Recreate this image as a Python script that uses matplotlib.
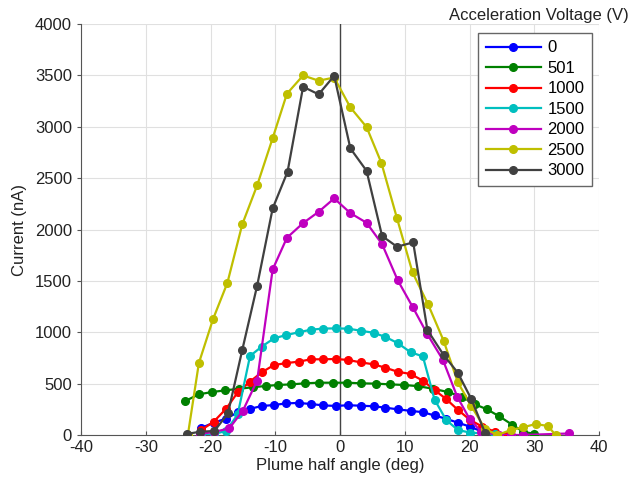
import matplotlib.pyplot as plt

plt.rcParams['font.family'] = ['Liberation Sans', 'DejaVu Sans']
plt.rcParams['axes.unicode_minus'] = False

# angle grids (deg) and currents (nA)
x_grid = [-21.4, -19.5, -17.6, -15.8, -13.9, -12.1, -10.2, -8.3, -6.4, -4.5, -2.6, -0.6, 1.3,
          3.2, 5.2, 7.0, 8.9, 10.9, 12.8, 14.6, 16.4, 18.2, 20.1, 22.0, 23.9, 25.8]

x_0 = x_grid[:25]
y_0 = [70, 120, 160, 220, 255, 282, 292, 308, 312, 302, 288, 283, 290,
       285, 280, 266, 250, 235, 222, 190, 158, 120, 81, 32, 5]

x_501 = [-23.9, -21.8, -19.8, -17.7, -15.6, -13.5, -11.5, -9.6, -7.5, -5.4, -3.3, -1.1, 1.1,
         3.3, 5.5, 7.7, 9.9, 12.1, 14.4, 16.7, 18.9, 20.8, 22.7, 24.6, 26.6, 28.3, 29.9]
y_501 = [331, 396, 418, 435, 450, 465, 477, 487, 493, 503, 509, 509, 509,
         503, 500, 493, 487, 475, 450, 418, 370, 300, 250, 182, 100, 32, 12]

x_1000 = x_grid
y_1000 = [49, 130, 255, 415, 520, 610, 681, 700, 714, 737, 737, 740, 730,
          707, 688, 655, 616, 594, 529, 438, 350, 245, 146, 81, 32, 0]

x_1500 = x_grid[:25]
y_1500 = [0, 8, 40, 200, 769, 860, 941, 973, 1000, 1025, 1036, 1038, 1035,
          1015, 995, 955, 895, 806, 765, 345, 146, 49, 23, 16, 7]

x_2000 = [-21.7, -19.4, -17.1, -15.0, -12.8, -10.4, -8.2, -5.7, -3.3, -0.9, 1.6, 4.1, 6.5,
          8.9, 11.2, 13.5, 15.9, 18.1, 20.0, 21.8, 24.6, 26.4, 28.2, 35.4]
y_2000 = [10, 30, 65, 237, 530, 1612, 1920, 2063, 2173, 2303, 2160, 2066, 1858,
          1508, 1249, 980, 730, 373, 158, 32, 0, 0, 0, 15]

x_2500 = [-23.5, -21.8, -19.6, -17.4, -15.1, -12.8, -10.4, -8.2, -5.7, -3.3, -0.9, 1.6, 4.1,
          6.4, 8.8, 11.2, 13.6, 16.0, 18.2, 20.3, 22.4, 24.3, 26.4, 28.3, 30.2, 32.1, 33.3]
y_2500 = [0, 700, 1130, 1480, 2050, 2430, 2890, 3322, 3500, 3449, 3480, 3189, 2998,
          2647, 2110, 1583, 1272, 918, 513, 280, 60, 0, 49, 75, 107, 88, 0]

x_3000 = [-23.7, -21.6, -19.4, -17.3, -15.1, -12.8, -10.4, -8.1, -5.7, -3.3, -0.9, 1.6, 4.1,
          6.5, 8.8, 11.3, 13.5, 16.0, 18.2, 20.3, 22.4]
y_3000 = [10, 32, 39, 211, 827, 1453, 2206, 2563, 3390, 3316, 3497, 2790, 2572,
          1937, 1833, 1875, 1022, 779, 606, 347, 22]

labels = ['0', '501', '1000', '1500', '2000', '2500', '3000']
colors = ['#0000FF', '#008000', '#FF0000', '#00BFBF', '#BF00BF', '#BFBF00', '#404040']

series = [(x_0, y_0), (x_501, y_501), (x_1000, y_1000), (x_1500, y_1500),
          (x_2000, y_2000), (x_2500, y_2500), (x_3000, y_3000)]

fig = plt.figure(figsize=(6.35, 4.82), dpi=100)
ax = fig.add_axes([0.1276, 0.0975, 0.8157, 0.8525])

for (xs, ys), lab, c in zip(series, labels, colors):
    ax.plot(xs, ys, '-o', color=c, lw=1.6, ms=5.5, label=lab, zorder=3)

ax.axvline(0, color='#444444', lw=1.0, zorder=2)
ax.set_xlim(-40, 40)
ax.set_ylim(0, 4000)
ax.set_xticks(range(-40, 41, 10))
ax.set_yticks(range(0, 4001, 500))
ax.grid(True, color='#e0e0e0', lw=0.8)
ax.set_axisbelow(True)

for s in ['top', 'right']:
    ax.spines[s].set_visible(False)
for s in ['left', 'bottom']:
    ax.spines[s].set_color('#555555')
ax.tick_params(axis='y', direction='out', length=3, colors='#555555', labelcolor='#222222', labelsize=12)
ax.tick_params(axis='x', direction='in', length=3, colors='#555555', labelcolor='#222222', labelsize=12)

ax.set_xlabel('Plume half angle (deg)', fontsize=12, color='#222222', labelpad=2)
ax.set_ylabel('Current (nA)', fontsize=12, color='#222222', labelpad=6)

leg = ax.legend(loc='upper right', bbox_to_anchor=(1.003, 0.999), fontsize=12,
                handlelength=3.3, labelspacing=0.33, borderpad=0.45, handletextpad=0.4,
                fancybox=False, framealpha=1, edgecolor='#666666')
leg.get_frame().set_linewidth(1.0)

fig.text(0.99, 0.968, 'Acceleration Voltage (V)', ha='right', va='center', fontsize=12, color='#222222')

fig.savefig('out.png', dpi=100)
